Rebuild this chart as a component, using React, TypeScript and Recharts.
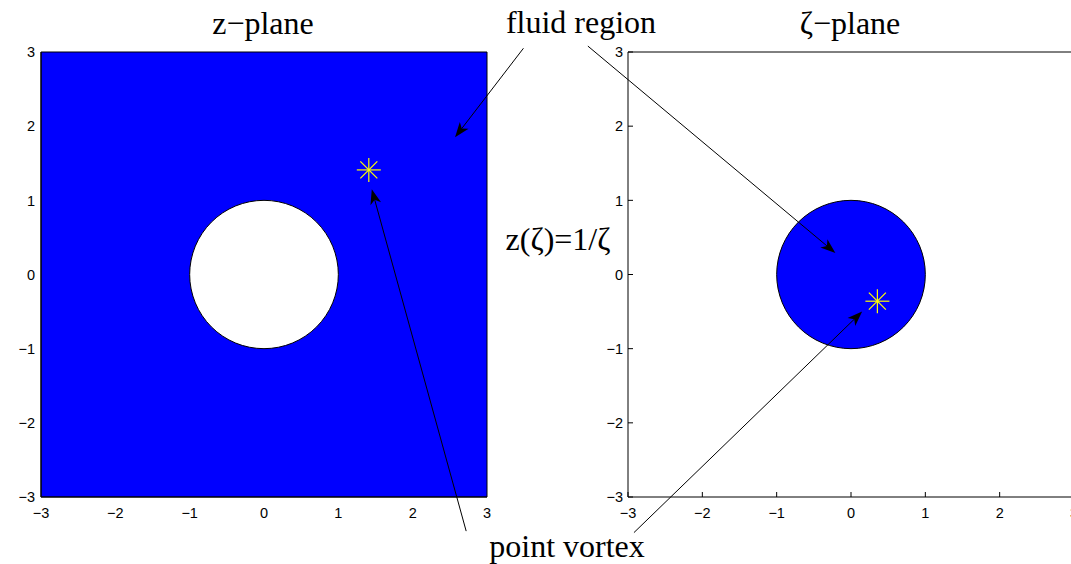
import { ReferenceArea, ReferenceLine, Scatter, ScatterChart, XAxis, YAxis } from "recharts";

// axis setup shared by both panels
const axisTicks = [-3, -2, -1, 0, 1, 2, 3];
const axisDomain: [number, number] = [-3, 3];

// point vortex position in each plane
const zVortex = [{ x: 1.41, y: 1.41 }];
const zetaVortex = [{ x: 0.355, y: -0.36 }];

// the unit circle (obstacle in z, fluid disk in zeta)
const unitCircle = { x1: -1, x2: 1, y1: -1, y2: 1 };

// annotation arrows, [start, tip] in each panel's data units
const zArrows = [
  [{ x: 3.49, y: 3.05 }, { x: 2.57, y: 1.85 }],
  [{ x: 2.72, y: -3.46 }, { x: 1.45, y: 1.15 }]
];
const zetaArrows = [
  [{ x: -3.54, y: 3.08 }, { x: -0.21, y: 0.29 }],
  [{ x: -2.92, y: -3.48 }, { x: 0.15, y: -0.5 }]
];

const sans = "Liberation Sans, Arial, sans-serif";
const fmt = (v: number) => (v < 0 ? `\u2212${Math.abs(v)}` : String(v));

const XTick = (props: any) => (
  <text x={props.x} y={props.y} dy="0.72em" textAnchor="middle" fontSize={14.5} fontFamily={sans} fill="#000">
    {fmt(props.payload.value)}
  </text>
);

const YTick = (props: any) => (
  <text x={props.x} y={props.y} dy="0.36em" textAnchor="end" fontSize={14.5} fontFamily={sans} fill="#000">
    {fmt(props.payload.value)}
  </text>
);

function Star(props: any) {
  const { cx, cy } = props;
  const r = 12;
  const d = 8.5;
  return (
    <g stroke="#ffff00" strokeWidth={1.2}>
      <line x1={cx - r} y1={cy} x2={cx + r} y2={cy} />
      <line x1={cx} y1={cy - r} x2={cx} y2={cy + r} />
      <line x1={cx - d} y1={cy - d} x2={cx + d} y2={cy + d} />
      <line x1={cx - d} y1={cy + d} x2={cx + d} y2={cy - d} />
    </g>
  );
}

const disk = (fill: string) => (props: any) => (
  <ellipse
    cx={props.x + props.width / 2}
    cy={props.y + props.height / 2}
    rx={props.width / 2}
    ry={props.height / 2}
    fill={fill}
    stroke="#000"
    strokeWidth={1}
  />
);

function Arrow(props: any) {
  const { x1, y1, x2, y2 } = props;
  const a = Math.atan2(y2 - y1, x2 - x1);
  const len = 15;
  const half = 5.5;
  const notch = 11;
  const bx = x2 - len * Math.cos(a);
  const by = y2 - len * Math.sin(a);
  const nx = x2 - notch * Math.cos(a);
  const ny = y2 - notch * Math.sin(a);
  const px = -Math.sin(a) * half;
  const py = Math.cos(a) * half;
  return (
    <g>
      <line x1={x1} y1={y1} x2={nx} y2={ny} stroke="#000" strokeWidth={1} />
      <polygon points={`${x2},${y2} ${bx + px},${by + py} ${nx},${ny} ${bx - px},${by - py}`} fill="#000" />
    </g>
  );
}

function ZPlane() {
  return (
    <ScatterChart width={1071} height={564} margin={{ top: 52, right: 584, bottom: 37, left: 0 }}>
      <XAxis
        type="number"
        dataKey="x"
        domain={axisDomain}
        ticks={axisTicks}
        height={30}
        tickSize={0}
        tickMargin={11}
        tick={XTick}
        axisLine={{ stroke: "#000" }}
        tickLine={false}
      />
      <YAxis
        type="number"
        dataKey="y"
        domain={axisDomain}
        ticks={axisTicks}
        width={41}
        tickSize={0}
        tickMargin={6}
        tick={YTick}
        axisLine={{ stroke: "#000" }}
        tickLine={false}
      />
      <ReferenceArea x1={-3} x2={3} y1={-3} y2={3} fill="#0000ff" fillOpacity={1} stroke="#000" />
      <ReferenceArea {...unitCircle} shape={disk("#ffffff")} />
      {zArrows.map((seg, i) => (
        <ReferenceLine key={i} segment={seg} ifOverflow="visible" shape={Arrow} />
      ))}
      <Scatter data={zVortex} shape={Star} isAnimationActive={false} />
    </ScatterChart>
  );
}

function ZetaPlane() {
  return (
    <ScatterChart width={1100} height={564} margin={{ top: 51, right: 25, bottom: 37, left: 0 }}>
      <XAxis
        type="number"
        dataKey="x"
        domain={axisDomain}
        ticks={axisTicks}
        height={30}
        tickSize={-5}
        tickMargin={16}
        tick={XTick}
        axisLine={{ stroke: "#000" }}
        tickLine={{ stroke: "#000" }}
      />
      <XAxis
        xAxisId="top"
        orientation="top"
        type="number"
        dataKey="x"
        domain={axisDomain}
        ticks={axisTicks}
        height={1}
        tickSize={-5}
        tick={false}
        axisLine={{ stroke: "#000" }}
        tickLine={{ stroke: "#000" }}
      />
      <YAxis
        type="number"
        dataKey="y"
        domain={axisDomain}
        ticks={axisTicks}
        width={628}
        tickSize={-5}
        tickMargin={10}
        tick={YTick}
        axisLine={{ stroke: "#000" }}
        tickLine={{ stroke: "#000" }}
      />
      <YAxis
        yAxisId="right"
        orientation="right"
        type="number"
        dataKey="y"
        domain={axisDomain}
        ticks={axisTicks}
        width={1}
        tickSize={-5}
        tick={false}
        axisLine={{ stroke: "#000" }}
        tickLine={{ stroke: "#000" }}
      />
      <ReferenceArea {...unitCircle} shape={disk("#0000ff")} />
      {zetaArrows.map((seg, i) => (
        <ReferenceLine key={i} segment={seg} ifOverflow="visible" shape={Arrow} />
      ))}
      <Scatter data={zetaVortex} shape={Star} isAnimationActive={false} />
    </ScatterChart>
  );
}

const serif = "Liberation Serif, Times New Roman, serif";

export default function App() {
  return (
    <div style={{ position: "absolute", left: 0, top: 0, width: 1071, height: 564, overflow: "hidden", background: "#fff" }}>
      <div style={{ position: "absolute", left: 0, top: 0 }}>
        <ZPlane />
      </div>
      <div style={{ position: "absolute", left: 0, top: 0 }}>
        <ZetaPlane />
      </div>
      <svg width={1071} height={564} style={{ position: "absolute", left: 0, top: 0, pointerEvents: "none" }}>
        <g fontFamily={serif} fontSize={32} fill="#000" textAnchor="middle">
          <text x={263} y={34}>z−plane</text>
          <text x={850} y={34}>ζ−plane</text>
          <text x={581} y={33}>fluid region</text>
          <text x={558} y={250}>z(ζ)=1/ζ</text>
          <text x={567} y={557}>point vortex</text>
        </g>
      </svg>
    </div>
  );
}
